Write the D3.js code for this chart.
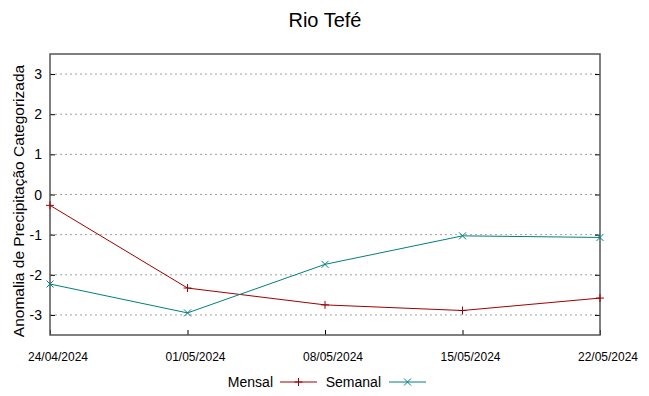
<!DOCTYPE html>
<html>
<head>
<meta charset="utf-8">
<script src="https://cdn.jsdelivr.net/npm/d3@7"></script>
<style>
body { margin: 0; background: #fff; }
text { font-family: "Liberation Sans", Arial, sans-serif; fill: #000; }
</style>
</head>
<body>
<div id="chart"></div>
<script>
var dates = ["24/04/2024", "01/05/2024", "08/05/2024", "15/05/2024", "22/05/2024"];
var mensal = [-0.27, -2.33, -2.75, -2.89, -2.58];
var semanal = [-2.23, -2.95, -1.74, -1.03, -1.07];
var yTicks = [-3, -2, -1, 0, 1, 2, 3];

var width = 649, height = 396;
var plotLeft = 50, plotRight = 600, plotTop = 54, plotBottom = 335;

var svg = d3.select("#chart").append("svg")
    .attr("width", width).attr("height", height);

var parse = d3.timeParse("%d/%m/%Y");
var x = d3.scaleTime()
    .domain([parse(dates[0]), parse(dates[dates.length - 1])])
    .range([plotLeft, plotRight]);
var y = d3.scaleLinear().domain([-3.5, 3.5]).range([plotBottom, plotTop]);

// grid
svg.append("g").selectAll("line").data(yTicks).enter().append("line")
    .attr("x1", plotLeft).attr("x2", plotRight)
    .attr("y1", function(d) { return y(d); })
    .attr("y2", function(d) { return y(d); })
    .style("stroke", "#a0a0a0").style("stroke-width", 1)
    .style("stroke-dasharray", "2,3");

// y ticks left and right
var yl = svg.append("g").attr("transform", "translate(" + plotLeft + ",0)")
    .call(d3.axisRight(y).tickValues(yTicks).tickSize(5).tickFormat(""));
var yr = svg.append("g").attr("transform", "translate(" + plotRight + ",0)")
    .call(d3.axisLeft(y).tickValues(yTicks).tickSize(5).tickFormat(""));
[yl, yr].forEach(function(a) {
  a.select(".domain").remove();
  a.selectAll("line").style("stroke", "#000");
});
svg.append("g").selectAll("text").data(yTicks).enter().append("text")
    .attr("x", 42).attr("y", function(d) { return y(d) + 5; })
    .attr("text-anchor", "end").style("font-size", "14px")
    .text(function(d) { return d; });

// x ticks
var xa = svg.append("g").attr("transform", "translate(0," + plotBottom + ")")
    .call(d3.axisTop(x).tickValues(dates.map(parse)).tickSize(5).tickFormat(""));
xa.select(".domain").remove();
xa.selectAll("line").style("stroke", "#000");
// gnuplot-style labels sit a little right of their ticks
svg.append("g").selectAll("text").data(dates).enter().append("text")
    .attr("x", function(d) { return x(parse(d)) + 8; }).attr("y", 361)
    .attr("text-anchor", "middle").style("font-size", "12px")
    .text(function(d) { return d; });

// border
svg.append("rect").attr("x", plotLeft).attr("y", plotTop)
    .attr("width", plotRight - plotLeft).attr("height", plotBottom - plotTop)
    .style("fill", "none").style("stroke", "#555").style("stroke-width", 1.5);

var line = d3.line()
    .x(function(d, i) { return x(parse(dates[i])); })
    .y(function(d) { return y(d); });

var red = "#a00000", teal = "#008080";

svg.append("path").datum(mensal).attr("d", line)
    .style("fill", "none").style("stroke", red).style("stroke-width", 1);
svg.append("path").datum(semanal).attr("d", line)
    .style("fill", "none").style("stroke", teal).style("stroke-width", 1);

function plus(sel, cx, cy, c) {
  sel.append("path").attr("d", "M" + (cx - 4) + "," + cy + "h8M" + cx + "," + (cy - 4) + "v8")
    .style("stroke", c).style("stroke-width", 1).style("fill", "none");
}
function cross(sel, cx, cy, c) {
  sel.append("path").attr("d", "M" + (cx - 3.5) + "," + (cy - 3.5) + "l7,7M" + (cx - 3.5) + "," + (cy + 3.5) + "l7,-7")
    .style("stroke", c).style("stroke-width", 1).style("fill", "none");
}
var marks = svg.append("g");
mensal.forEach(function(v, i) { plus(marks, x(parse(dates[i])), y(v), red); });
semanal.forEach(function(v, i) { cross(marks, x(parse(dates[i])), y(v), teal); });

// title & labels
svg.append("text").attr("x", 325).attr("y", 27).attr("text-anchor", "middle")
    .style("font-size", "20px").text("Rio Tefé");
svg.append("text").attr("transform", "translate(24,201) rotate(-90)")
    .attr("text-anchor", "middle").style("font-size", "15.5px")
    .text("Anomalia de Precipitação Categorizada");

// legend
var lg = svg.append("g");
lg.append("text").attr("x", 273).attr("y", 387).attr("text-anchor", "end")
    .style("font-size", "14px").text("Mensal");
lg.append("line").attr("x1", 280).attr("x2", 317).attr("y1", 382).attr("y2", 382)
    .style("stroke", red);
plus(lg, 298.5, 382, red);
lg.append("text").attr("x", 381).attr("y", 387).attr("text-anchor", "end")
    .style("font-size", "14px").text("Semanal");
lg.append("line").attr("x1", 389).attr("x2", 426).attr("y1", 382).attr("y2", 382)
    .style("stroke", teal);
cross(lg, 407.5, 382, teal);
</script>
</body>
</html>
